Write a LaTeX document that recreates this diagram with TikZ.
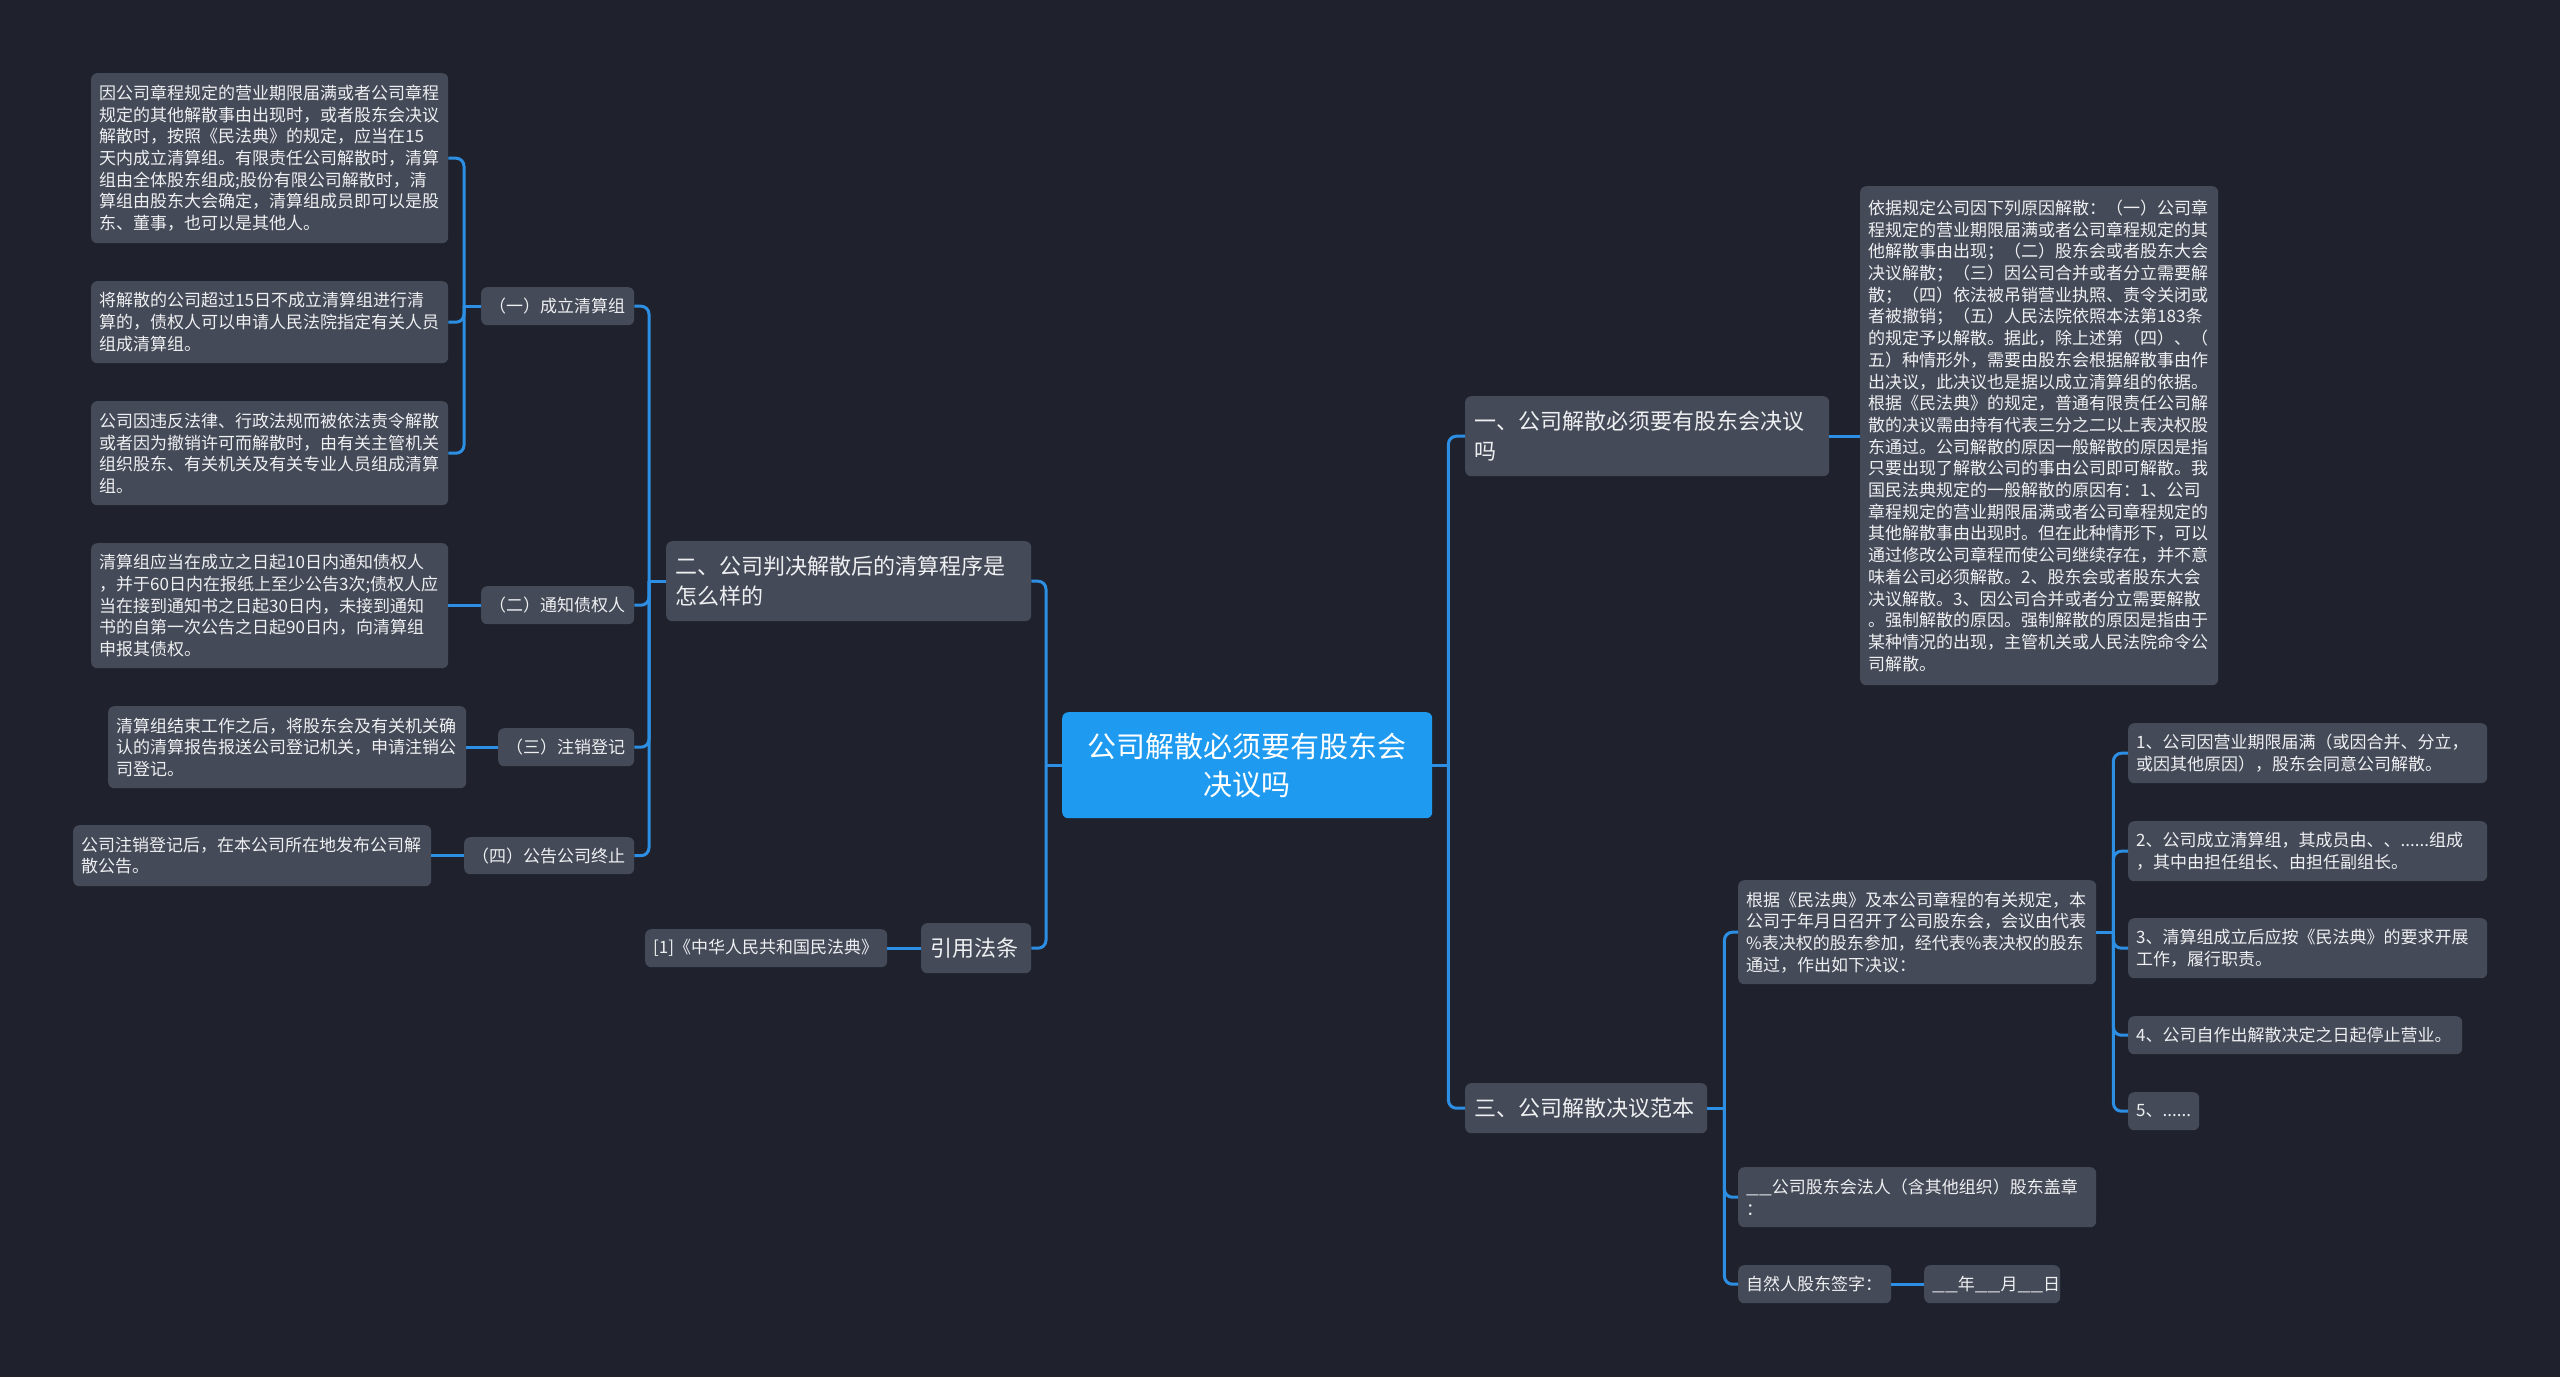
\documentclass[tikz,border=0pt]{standalone}
\usepackage{fontspec}
\setmainfont{Noto Sans CJK SC}
\usetikzlibrary{calc}
\definecolor{bgc}{HTML}{1F222D}
\definecolor{boxc}{HTML}{454A58}
\definecolor{linec}{HTML}{2D8FE3}
\definecolor{rootc}{HTML}{1E9BF0}
\definecolor{txtc}{HTML}{EEEFF1}
\newcommand{\uline}{\scalebox{1.35}[1]{\_\_}}
\tikzset{
  box/.style={fill=boxc, rounded corners=6pt, text=txtc, inner xsep=8pt, inner ysep=0pt,
    align=left, anchor=north west, font=\fontsize{17}{21.7}\selectfont},
  bigbox/.style={box, font=\fontsize{22}{30}\selectfont, inner xsep=9pt},
  rootbox/.style={fill=rootc, rounded corners=6pt, text=white, inner xsep=8pt, inner ysep=0pt,
    align=center, anchor=north west, font=\fontsize{29}{38}\selectfont},
  conn/.style={draw=linec, line width=3pt, rounded corners=8pt},
}
\newcommand{\bx}[7][box]{\node[#1, minimum width=#5pt, minimum height=#6pt, text width=#5pt-16pt] (#2) at (#3,#4) {#7};}
\begin{document}
\begin{tikzpicture}[x=1pt,y=-1pt]
\fill[bgc] (0,0) rectangle (2560,1377);
\useasboundingbox (0,0) rectangle (2560,1377);

% left branch leaves
\bx{a1}{91}{73}{357}{170}{因公司章程规定的营业期限届满或者公司章程\\规定的其他解散事由出现时，或者股东会决议\\解散时，按照《民法典》的规定，应当在15\\天内成立清算组。有限责任公司解散时，清算\\组由全体股东组成;股份有限公司解散时，清\\算组由股东大会确定，清算组成员即可以是股\\东、董事，也可以是其他人。}
\bx{a2}{91}{281}{357}{82}{将解散的公司超过15日不成立清算组进行清\\算的，债权人可以申请人民法院指定有关人员\\组成清算组。}
\bx{a3}{91}{401}{357}{104}{公司因违反法律、行政法规而被依法责令解散\\或者因为撤销许可而解散时，由有关主管机关\\组织股东、有关机关及有关专业人员组成清算\\组。}
\bx{b1}{91}{543}{357}{125}{清算组应当在成立之日起10日内通知债权人\\，并于60日内在报纸上至少公告3次;债权人应\\当在接到通知书之日起30日内，未接到通知\\书的自第一次公告之日起90日内，向清算组\\申报其债权。}
\bx{c1}{108}{706}{358}{82}{清算组结束工作之后，将股东会及有关机关确\\认的清算报告报送公司登记机关，申请注销公\\司登记。}
\bx{d1}{73}{825}{358}{61}{公司注销登记后，在本公司所在地发布公司解\\散公告。}

\bx{y1}{481}{287}{153}{38}{（一）成立清算组}
\bx{y2}{481}{586}{153}{38}{（二）通知债权人}
\bx{y3}{498}{728}{136}{38}{（三）注销登记}
\bx{y4}{464}{837}{170}{37}{（四）公告公司终止}

\bx[bigbox]{er}{666}{541}{363}{80}{二、公司判决解散后的清算程序是\\怎么样的}
\bx[bigbox]{yy}{921}{923}{108}{50}{引用法条}
\bx{ref}{645}{929}{242}{38}{[1]《中华人民共和国民法典》}

% root
\bx[rootbox]{root}{1062}{712}{370}{106}{公司解散必须要有股东会\\决议吗}

% right branch
\bx[bigbox]{one}{1465}{396}{362}{80}{一、公司解散必须要有股东会决议\\吗}
\bx{big}{1860}{186}{358}{499}{依据规定公司因下列原因解散：（一）公司章\\程规定的营业期限届满或者公司章程规定的其\\他解散事由出现；（二）股东会或者股东大会\\决议解散；（三）因公司合并或者分立需要解\\散；（四）依法被吊销营业执照、责令关闭或\\者被撤销；（五）人民法院依照本法第183条\\的规定予以解散。据此，除上述第（四）、（\\五）种情形外，需要由股东会根据解散事由作\\出决议，此决议也是据以成立清算组的依据。\\根据《民法典》的规定，普通有限责任公司解\\散的决议需由持有代表三分之二以上表决权股\\东通过。公司解散的原因一般解散的原因是指\\只要出现了解散公司的事由公司即可解散。我\\国民法典规定的一般解散的原因有：1、公司\\章程规定的营业期限届满或者公司章程规定的\\其他解散事由出现时。但在此种情形下，可以\\通过修改公司章程而使公司继续存在，并不意\\味着公司必须解散。2、股东会或者股东大会\\决议解散。3、因公司合并或者分立需要解散\\。强制解散的原因。强制解散的原因是指由于\\某种情况的出现，主管机关或人民法院命令公\\司解散。}
\bx[bigbox]{three}{1465}{1083}{240}{50}{三、公司解散决议范本}
\bx{e1}{1738}{880}{358}{104}{根据《民法典》及本公司章程的有关规定，本\\公司于年月日召开了公司股东会，会议由代表\\\%表决权的股东参加，经代表\%表决权的股东\\通过，作出如下决议：}
\bx{e2}{1738}{1167}{358}{60}{\uline 公司股东会法人（含其他组织）股东盖章\\：}
\bx{e3}{1738}{1265}{153}{38}{自然人股东签字：}
\bx[box, inner xsep=5pt]{e4}{1924}{1265}{136}{38}{\uline 年\uline 月\uline 日}
\bx{f1}{2128}{723}{359}{60}{1、公司因营业期限届满（或因合并、分立，\\或因其他原因），股东会同意公司解散。}
\bx{f2}{2128}{821}{359}{60}{2、公司成立清算组，其成员由、、......组成\\，其中由担任组长、由担任副组长。}
\bx{f3}{2128}{918}{359}{60}{3、清算组成立后应按《民法典》的要求开展\\工作，履行职责。}
\bx{f4}{2128}{1016}{334}{38}{4、公司自作出解散决定之日起停止营业。}
\bx{f5}{2128}{1092}{71}{38}{5、......}

% connectors
\path (root.west) ++(-16,0) coordinate (rTL);
\path (root.east) ++(16,0) coordinate (rTR);
\path (er.west) ++(-17,0) coordinate (erT);
\path (y1.west) ++(-17,0) coordinate (y1T);
\path (three.east) ++(17,0) coordinate (thT);
\path (e1.east) ++(17,0) coordinate (e1T);

\draw[conn] (root.west) -- (rTL);
\foreach \c in {er,yy} \draw[conn] (rTL) |- (\c.east);
\draw[conn] (root.east) -- (rTR);
\foreach \c in {one,three} \draw[conn] (rTR) |- (\c.west);

\draw[conn] (er.west) -- (erT);
\foreach \c in {y1,y2,y3,y4} \draw[conn] (erT) |- (\c.east);
\draw[conn] (y1.west) -- (y1T);
\foreach \c in {a1,a2,a3} \draw[conn] (y1T) |- (\c.east);
\draw[conn] (y2.west) -- (b1.east |- y2.west);
\draw[conn] (y3.west) -- (c1.east |- y3.west);
\draw[conn] (y4.west) -- (d1.east |- y4.west);
\draw[conn] (yy.west) -- (ref.east |- yy.west);

\draw[conn] (one.east) -- (big.west |- one.east);
\draw[conn] (three.east) -- (thT);
\foreach \c in {e1,e2,e3} \draw[conn] (thT) |- (\c.west);
\draw[conn] (e3.east) -- (e4.west |- e3.east);
\draw[conn] (e1.east) -- (e1T);
\foreach \c in {f1,f2,f3,f4,f5} \draw[conn] (e1T) |- (\c.west);
\end{tikzpicture}
\end{document}
